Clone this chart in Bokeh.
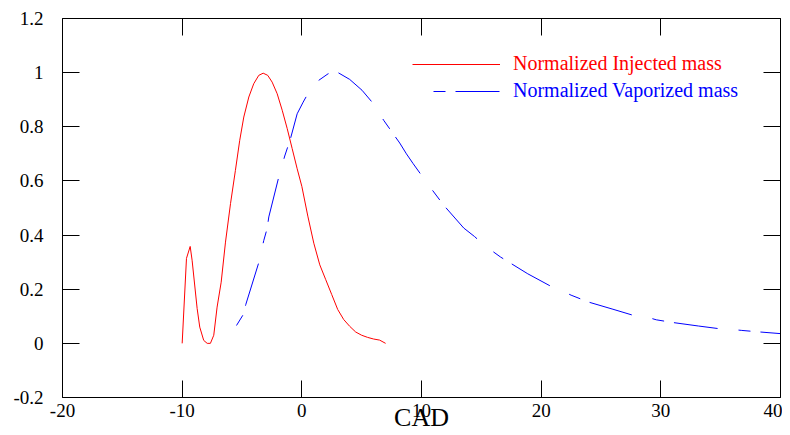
from bokeh.plotting import figure
from bokeh.models import LinearAxis, FixedTicker, Legend, LegendItem
from bokeh.embed import file_html
from bokeh.resources import INLINE

# ---- data ----
inj_cad = [-10, -9.64, -9.33, -9.17, -8.75, -8.53, -8.2, -7.91, -7.64, -7.36, -7.08, -6.74,
           -6.38, -5.96, -5.55, -5.19, -4.85, -4.43, -4.02, -3.6, -3.23, -2.85, -2.48, -2.06,
           -1.64, -1.22, -0.81, -0.39, 0.0, 0.5, 1.0, 1.5, 2.0, 2.5, 3.0, 3.5, 4.0, 4.5, 5.0,
           5.5, 6.0, 6.5, 7.0]
inj_mass = [0, 0.314, 0.358, 0.307, 0.129, 0.06, 0.011, 0, 0, 0.03, 0.134, 0.226,
            0.374, 0.516, 0.639, 0.75, 0.836, 0.91, 0.959, 0.99, 0.998, 0.99, 0.965, 0.922,
            0.861, 0.793, 0.72, 0.645, 0.58, 0.47, 0.37, 0.29, 0.235, 0.18, 0.125, 0.088, 0.063,
            0.042, 0.03, 0.022, 0.016, 0.012, 0.0]

vap_cad = [-5.46, -4.9, -4.68, -3.6, -3.18, -2.9, -2.76, -1.93, -1.43, -0.95, -0.39, 0.11,
           0.6, 1.2, 2.2, 3.03, 4.0, 5.03, 5.87, 6.84, 8.18, 8.74, 9.3, 10.5, 11.86, 13.53,
           14.42, 15.26, 16.6, 18.88, 20.72, 21.66, 22.5, 24.0, 26.0, 27.73, 28.84, 29.62,
           31.0, 33.16, 34.9, 35.8, 36.72, 38.0, 40.0]
vap_mass = [0.066, 0.106, 0.144, 0.298, 0.38, 0.424, 0.467, 0.614, 0.692, 0.756, 0.848, 0.891,
            0.93, 0.965, 0.996, 1.0, 0.975, 0.935, 0.891, 0.824, 0.74, 0.70, 0.664, 0.59, 0.51,
            0.426, 0.395, 0.362, 0.319, 0.257, 0.213, 0.196, 0.178, 0.152, 0.126, 0.103, 0.097,
            0.087, 0.077, 0.064, 0.054, 0.052, 0.048, 0.043, 0.036]

x_ticks = [-20, -10, 0, 10, 20, 30, 40]
x_tick_labels = ["-20", "-10", "0", "10", "20", "30", "40"]
y_ticks = [-0.2, 0, 0.2, 0.4, 0.6, 0.8, 1, 1.2]
y_tick_labels = ["-0.2", "0", "0.2", "0.4", "0.6", "0.8", "1", "1.2"]

series_names = ["Normalized Injected mass", "Normalized Vaporized mass"]
x_label = "CAD"

FONT = "Liberation Serif"
RED = "#ff0000"
BLUE = "#0000ff"

p = figure(width=782, height=435, x_range=(-20, 40), y_range=(-0.2, 1.2),
           output_backend="svg", toolbar_location=None,
           x_axis_type=None, y_axis_type=None,
           min_border_left=62, min_border_right=2, min_border_top=18, min_border_bottom=38)
p.outline_line_color = None
p.background_fill_color = "white"
p.border_fill_color = "white"


def make_axis(ticks, labels, show_labels, standoff):
    ax = LinearAxis(ticker=FixedTicker(ticks=ticks, minor_ticks=[]),
                    major_label_overrides=dict(zip(ticks, labels)),
                    major_tick_in=17, major_tick_out=0,
                    minor_tick_in=0, minor_tick_out=0,
                    axis_line_color="black", axis_line_width=1,
                    major_tick_line_color="black", major_tick_line_width=1,
                    major_label_standoff=standoff,
                    major_label_text_font=FONT,
                    major_label_text_font_size="19px" if show_labels else "0px",
                    major_label_text_color="black" if show_labels else None)
    return ax


xb = make_axis(x_ticks, x_tick_labels, True, 6)
xb.axis_label = x_label
xb.axis_label_text_font = FONT
xb.axis_label_text_font_size = "26px"
xb.axis_label_text_font_style = "normal"
xb.axis_label_text_color = "black"
xb.axis_label_standoff = -17
p.add_layout(xb, "below")
p.add_layout(make_axis(x_ticks, x_tick_labels, False, 0), "above")
p.add_layout(make_axis(y_ticks, y_tick_labels, True, 19), "left")
p.add_layout(make_axis(y_ticks, y_tick_labels, False, 0), "right")

r_inj = p.line(inj_cad, inj_mass, line_color=RED, line_width=1)
r_vap = p.line(vap_cad, vap_mass, line_color=BLUE, line_width=1, line_dash="12 10 44 21")
# legend key for the dashed series: a single point (draws nothing in the plot),
# dash pattern shifted to start with the gap as in the reference key
r_vap_key = p.line(vap_cad[:1], vap_mass[:1], line_color=BLUE, line_width=1,
                   line_dash="12 10 44 21", line_dash_offset=66)

for name, rend, col, loc in [(series_names[0], r_inj, RED, (350, 322)),
                             (series_names[1], r_vap_key, BLUE, (350, 295))]:
    lg = Legend(items=[LegendItem(label=name, renderers=[rend])], location=loc,
                border_line_color=None, background_fill_alpha=0, padding=0, margin=0,
                spacing=0, glyph_width=88, glyph_height=20, label_height=20,
                label_standoff=13, label_text_font=FONT, label_text_font_size="20px",
                label_text_color=col, label_text_baseline="middle")
    p.add_layout(lg)

open("out.html", "w").write(file_html(p, INLINE))
